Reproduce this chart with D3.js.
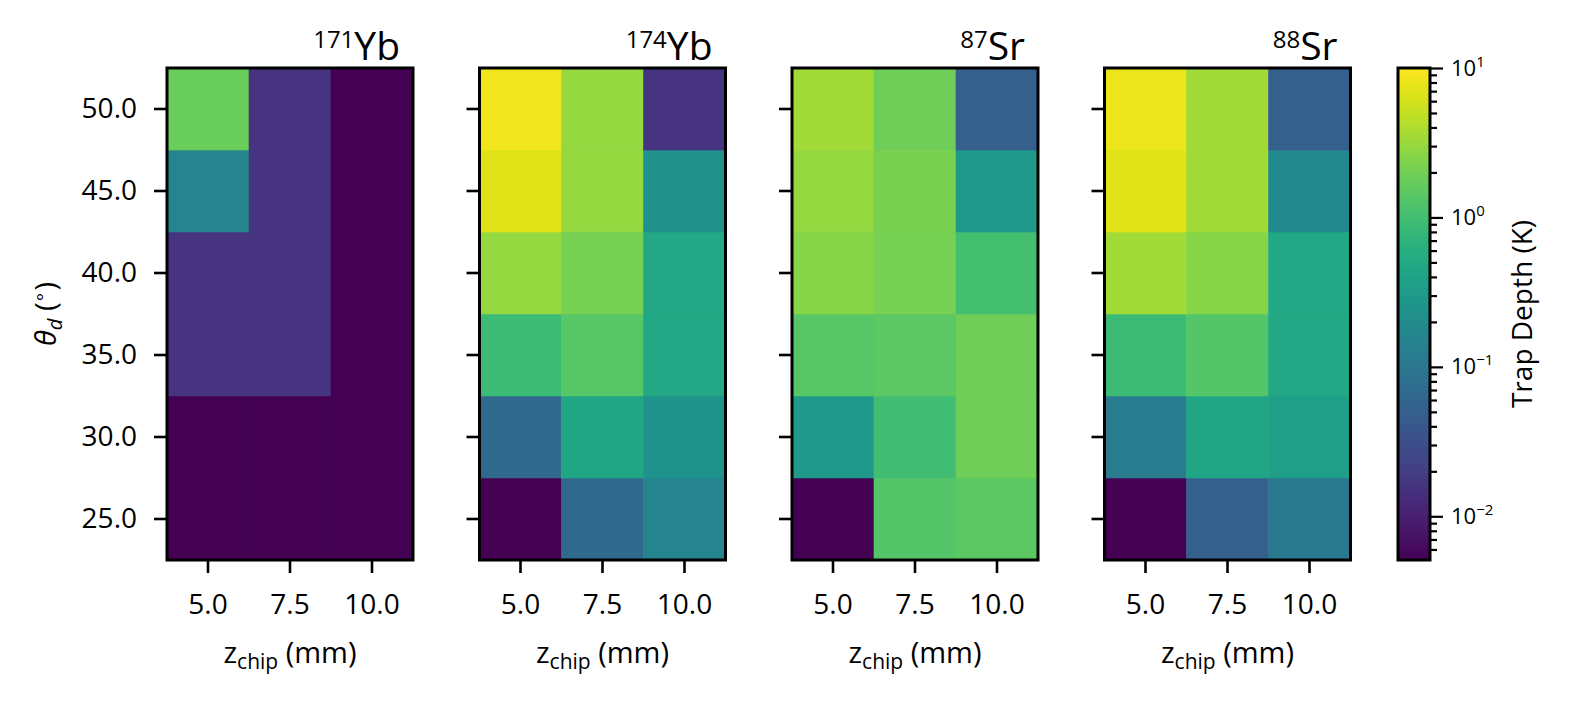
<!DOCTYPE html>
<html>
<head>
<meta charset="utf-8">
<script src="https://cdn.jsdelivr.net/npm/d3@7"></script>
<style>
body { margin: 0; background: #fff; }
text { font-family: "Open Sans", sans-serif; fill: #000; }
</style>
</head>
<body>
<div id="chart"></div>
<script>
//-------------------------------------------------------//
//                        DATA                           //
//-------------------------------------------------------//

// grid axes
var thetas = [25.0, 30.0, 35.0, 40.0, 45.0, 50.0];
var zChip = [5.0, 7.5, 10.0];

// panel titles
var isotopeMass = ["171", "174", "87", "88"];
var isotopeName = ["Yb", "Yb", "Sr", "Sr"];

// trap depth (K), one row per theta (25 -> 50), one column per z_chip
var depthYb171 = [
    [0.004, 0.004, 0.004],
    [0.004, 0.004, 0.004],
    [0.016, 0.016, 0.004],
    [0.016, 0.016, 0.004],
    [0.155, 0.016, 0.004],
    [1.75, 0.016, 0.004]
];
var depthYb174 = [
    [0.004, 0.064, 0.155],
    [0.064, 0.447, 0.244],
    [0.885, 1.34, 0.482],
    [2.97, 2.04, 0.482],
    [6.84, 2.97, 0.226],
    [8.59, 2.97, 0.016]
];
var depthSr87 = [
    [0.004, 1.30, 1.50],
    [0.306, 0.98, 1.85],
    [1.34, 1.50, 1.85],
    [2.55, 2.11, 1.03],
    [2.97, 2.20, 0.306],
    [3.46, 1.85, 0.0497]
];
var depthSr88 = [
    [0.004, 0.0497, 0.106],
    [0.120, 0.447, 0.356],
    [0.885, 1.30, 0.482],
    [3.46, 2.55, 0.482],
    [6.84, 3.46, 0.180],
    [7.96, 3.46, 0.0497]
];
var depths = [depthYb171, depthYb174, depthSr87, depthSr88];

// colour scale limits and colorbar labels
var depthMin = 0.0051;
var depthMax = 10;
var cbarMajor = [0.01, 0.1, 1, 10];
var cbarExp = ["\u22122", "\u22121", "0", "1"];

//-------------------------------------------------------//
//                      SVG AREA                         //
//-------------------------------------------------------//

var svgWidth = 1572;
var svgHeight = 706;

var panelTop = 68;
var panelLeft = 167;
var panelW = 246;
var panelH = 492;
var panelStep = 312.5;

var cbarLeft = 1398;
var cbarW = 32;

var svg = d3.select("#chart")
    .append("svg")
    .attr("width", svgWidth)
    .attr("height", svgHeight);

var color = d3.scaleSequentialLog(d3.interpolateViridis)
    .domain([depthMin, depthMax])
    .clamp(true);

//-------------------------------------------------------//
//                      PANELS                           //
//-------------------------------------------------------//

depths.forEach(function(grid, i) {

    var g = svg.append("g")
        .attr("transform", `translate(${panelLeft + i * panelStep}, ${panelTop})`);

    var x = d3.scaleBand().domain(zChip).range([0, panelW]);
    var y = d3.scaleBand().domain(thetas).range([panelH, 0]);

    // flatten the grid into cells
    var cells = [];
    grid.forEach(function(row, r) {
        row.forEach(function(v, c) {
            cells.push({theta: thetas[r], z: zChip[c], depth: v});
        });
    });

    g.selectAll("rect.cell")
        .data(cells)
        .enter()
        .append("rect")
        .attr("class", "cell")
        .attr("x", d => x(d.z))
        .attr("y", d => y(d.theta))
        .attr("width", x.bandwidth())
        .attr("height", y.bandwidth())
        .attr("fill", d => color(d.depth))
        .attr("stroke", d => color(d.depth))
        .attr("stroke-width", 0.6);

    // axes
    var bottomAxis = d3.axisBottom(x)
        .tickFormat(d3.format(".1f"))
        .tickSize(13)
        .tickPadding(21);

    var leftAxis = d3.axisLeft(y)
        .tickFormat(i === 0 ? d3.format(".1f") : "")
        .tickSize(13)
        .tickPadding(17);

    var xg = g.append("g")
        .attr("transform", `translate(0, ${panelH})`)
        .call(bottomAxis);

    var yg = g.append("g").call(leftAxis);

    [xg, yg].forEach(function(a) {
        a.select(".domain").remove();
        a.selectAll(".tick line").attr("stroke", "#000").attr("stroke-width", 2.6);
        a.selectAll(".tick text")
            .style("font-family", "'Open Sans', sans-serif")
            .style("font-size", "28px")
            .attr("fill", "#000");
    });

    // frame
    g.append("rect")
        .attr("width", panelW)
        .attr("height", panelH)
        .attr("fill", "none")
        .attr("stroke", "#000")
        .attr("stroke-width", 3);

    // title
    var title = g.append("text")
        .attr("x", panelW - 13)
        .attr("y", -8)
        .attr("text-anchor", "end");
    title.append("tspan")
        .attr("font-size", "24px")
        .attr("dy", "-12")
        .text(isotopeMass[i]);
    title.append("tspan")
        .attr("font-size", "39px")
        .attr("dy", "12")
        .text(isotopeName[i]);

    // x label
    var xl = g.append("text")
        .attr("x", panelW / 2)
        .attr("y", 595)
        .attr("text-anchor", "middle")
        .attr("font-size", "29px");
    xl.append("tspan").text("z");
    xl.append("tspan")
        .attr("font-size", "21px")
        .attr("dy", "6")
        .text("chip");
    xl.append("tspan")
        .attr("dy", "-6")
        .text(" (mm)");
});

// y label
var yl = svg.append("text")
    .attr("transform", `translate(56, ${panelTop + panelH / 2}) rotate(-90)`)
    .attr("text-anchor", "middle")
    .attr("font-size", "29px");
yl.append("tspan").attr("font-style", "italic").text("\u03b8");
yl.append("tspan")
    .attr("font-style", "italic")
    .attr("font-size", "20px")
    .attr("dy", "6")
    .text("d");
yl.append("tspan")
    .attr("dy", "-6")
    .text(" (");
yl.append("tspan")
    .attr("font-size", "19px")
    .attr("dy", "-10")
    .text("\u2218");
yl.append("tspan")
    .attr("dy", "10")
    .text(")");

//-------------------------------------------------------//
//                     COLORBAR                          //
//-------------------------------------------------------//

var cbarY = d3.scaleLog()
    .domain([depthMin, depthMax])
    .range([panelH, 0]);

var grad = svg.append("defs")
    .append("linearGradient")
    .attr("id", "cbar")
    .attr("x1", 0).attr("y1", 1)
    .attr("x2", 0).attr("y2", 0);

d3.range(0, 1.0001, 0.02).forEach(function(t) {
    grad.append("stop")
        .attr("offset", t)
        .attr("stop-color", color(cbarY.invert(panelH * (1 - t))));
});

var cg = svg.append("g")
    .attr("transform", `translate(${cbarLeft}, ${panelTop})`);

cg.append("rect")
    .attr("width", cbarW)
    .attr("height", panelH)
    .attr("fill", "url(#cbar)");

// minor ticks
var minorTicks = [];
[0.001, 0.01, 0.1, 1].forEach(function(dec) {
    d3.range(2, 10).forEach(function(k) {
        var v = k * dec;
        if (v >= depthMin && v <= depthMax) minorTicks.push(v);
    });
});

var minorAxis = d3.axisRight(cbarY)
    .tickValues(minorTicks)
    .tickSize(7)
    .tickFormat("");

var majorAxis = d3.axisRight(cbarY)
    .tickValues(cbarMajor)
    .tickSize(13)
    .tickPadding(8)
    .tickFormat("");

var mg = cg.append("g").attr("transform", `translate(${cbarW}, 0)`).call(minorAxis);
var Mg = cg.append("g").attr("transform", `translate(${cbarW}, 0)`).call(majorAxis);

[mg, Mg].forEach(function(a) {
    a.select(".domain").remove();
    a.selectAll(".tick line").attr("stroke", "#000").attr("stroke-width", 2.2);
});

Mg.selectAll(".tick text")
    .style("font-family", "'Open Sans', sans-serif")
    .style("font-size", "22px")
    .attr("fill", "#000")
    .each(function(d, k) {
        var t = d3.select(this);
        t.append("tspan").text("10");
        t.append("tspan")
            .attr("font-size", "15px")
            .attr("dy", "-9")
            .text(cbarExp[k]);
    });

cg.append("rect")
    .attr("width", cbarW)
    .attr("height", panelH)
    .attr("fill", "none")
    .attr("stroke", "#000")
    .attr("stroke-width", 3);

svg.append("text")
    .attr("transform", `translate(1532, ${panelTop + panelH / 2}) rotate(-90)`)
    .attr("text-anchor", "middle")
    .attr("font-size", "28px")
    .text("Trap Depth (K)");
</script>
</body>
</html>
